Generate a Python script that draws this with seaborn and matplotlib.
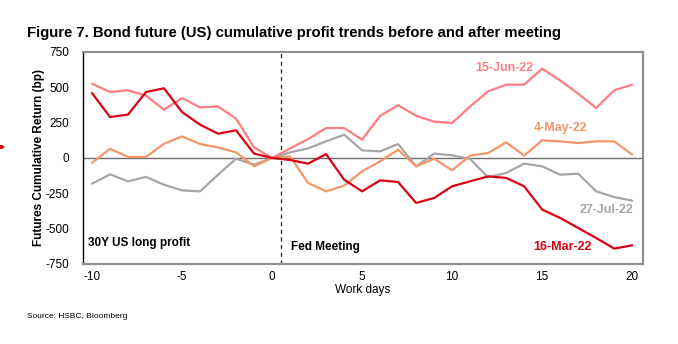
import numpy as np
import pandas as pd
import matplotlib
matplotlib.use("Agg")
import matplotlib.pyplot as plt
import seaborn as sns
from matplotlib.patches import Circle

days = list(range(-10, 21))

jun15 = [526, 467, 479, 441, 342, 424, 358, 365, 278, 75, 0, 68, 134, 212, 212,
         130, 299, 373, 299, 257, 248, 365, 472, 519, 519, 632, 549, 455, 354, 479, 519]
mar16 = [460, 290, 307, 467, 493, 325, 236, 172, 196, 31, 0, -14, -40, 28, -153,
         -236, -158, -170, -318, -283, -200, -165, -130, -141, -200, -365, -424, -495, -566, -641, -618]
may04 = [-35, 66, 7, 7, 101, 153, 99, 75, 40, -59, 0, 12, -177, -236, -196,
         -94, -24, 59, -59, -5, -87, 17, 35, 111, 17, 125, 118, 106, 118, 118, 24]
jul27 = [-182, -116, -165, -134, -189, -229, -236, -118, -5, -47, 0, 40, 68, 118, 165,
         54, 47, 99, -59, 31, 19, -7, -137, -106, -40, -59, -118, -111, -236, -276, -302]

series_names = ["15-Jun-22", "4-May-22", "27-Jul-22", "16-Mar-22"]
series_values = [jun15, may04, jul27, mar16]
colors = {"15-Jun-22": "#FF7C80", "4-May-22": "#F4956A", "27-Jul-22": "#A6A6A6", "16-Mar-22": "#DB0011"}

yticks = [-750, -500, -250, 0, 250, 500, 750]
xticks = [-10, -5, 0, 5, 10, 15, 20]

df = pd.DataFrame({"day": days * len(series_names),
                   "value": sum(series_values, []),
                   "series": sum([[n] * len(days) for n in series_names], [])})

sns.set_theme(style="white")
plt.rcParams["font.family"] = ["Liberation Sans", "DejaVu Sans"]
plt.rcParams["axes.unicode_minus"] = False
plt.rcParams["text.color"] = "black"
plt.rcParams["axes.labelcolor"] = "black"
plt.rcParams["xtick.color"] = "black"
plt.rcParams["ytick.color"] = "black"

fig = plt.figure(figsize=(6.78, 3.44), dpi=100)
ax = fig.add_axes([83 / 678, 1 - 264 / 344, (643 - 83) / 678, (264 - 52) / 344])

ax.axhline(0, color="#6E6E6E", lw=1.0, zorder=1)
sns.lineplot(data=df, x="day", y="value", hue="series", palette=colors,
             hue_order=["27-Jul-22", "4-May-22", "15-Jun-22", "16-Mar-22"],
             linewidth=1.6, ax=ax, legend=False, zorder=3)
ax.axvline(0.5, color="#333333", lw=1.0, ls=(0, (3, 2.5)), zorder=2)

ax.set_xlim(-10.5, 20.6)
ax.set_ylim(-750, 750)
ax.set_xticks(xticks)
ax.set_yticks(yticks)
ax.tick_params(axis="both", labelsize=8.5, length=0)
ax.tick_params(axis="y", pad=10)
ax.tick_params(axis="x", pad=5)
ax.set_xlabel("Work days", fontsize=8.5, labelpad=1)
ax.set_ylabel("Futures Cumulative Return (bp)", fontsize=8.5, fontweight="bold", labelpad=0)

for s in ["top", "right", "bottom"]:
    ax.spines[s].set_color("#909090")
    ax.spines[s].set_linewidth(1.6)
ax.spines["left"].set_color("black")
ax.spines["left"].set_linewidth(1.0)

lab_kw = dict(fontsize=9, fontweight="bold", ha="center", va="center")
ax.text(12.9, 640, "15-Jun-22", color="#FF7C80", **lab_kw)
ax.text(16.0, 212, "4-May-22", color="#F4956A", **lab_kw)
ax.text(18.6, -368, "27-Jul-22", color="#A6A6A6", **lab_kw)
ax.text(16.1, -629, "16-Mar-22", color="#DB0011", **lab_kw)
ax.text(-10.2, -601, "30Y US long profit", color="black", fontsize=8.5, fontweight="bold", ha="left", va="center")
ax.text(1.05, -629, "Fed Meeting", color="black", fontsize=8.5, fontweight="bold", ha="left", va="center")

fig.text(27 / 678, 1 - 33 / 344, "Figure 7. Bond future (US) cumulative profit trends before and after meeting",
         fontsize=10.7, fontweight="bold", ha="left", va="center")
fig.text(27 / 678, 1 - 316 / 344, "Source: HSBC, Bloomberg", fontsize=6, ha="left", va="center")

fig.patches.append(Circle((1 / 678, 1 - 147 / 344), 2.5 / 678, transform=fig.transFigure,
                          color="#DB0011", zorder=5))

fig.savefig("out.png", dpi=100)
